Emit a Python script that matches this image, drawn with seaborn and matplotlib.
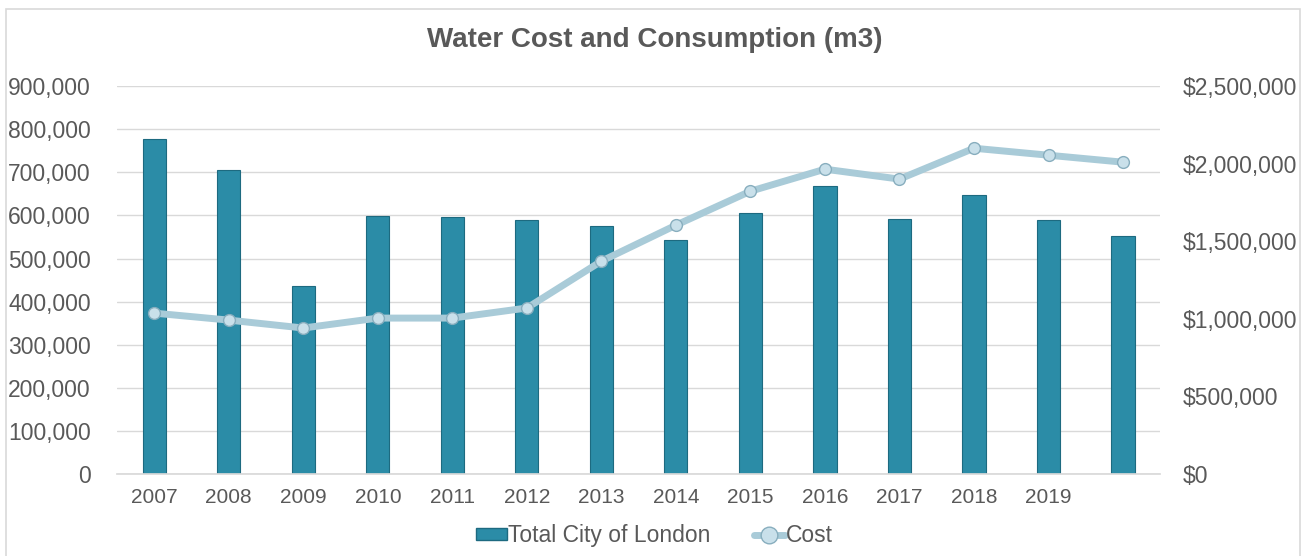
import matplotlib
matplotlib.use("Agg")
import matplotlib.pyplot as plt
import matplotlib.ticker as ticker
from matplotlib.patches import Patch, Rectangle
from matplotlib.lines import Line2D
import seaborn as sns
import pandas as pd

# Chart data
years = ["2007", "2008", "2009", "2010", "2011", "2012", "2013",
         "2014", "2015", "2016", "2017", "2018", "2019", ""]
consumption = [777000, 705000, 436000, 599000, 596000, 589000, 575000,
               543000, 605000, 668000, 592000, 647000, 589000, 552000]
cost = [1037000, 992000, 941000, 1005000, 1005000, 1070000, 1372000,
        1604000, 1823000, 1965000, 1901000, 2100000, 2055000, 2010000]

df = pd.DataFrame({"year": years, "consumption": consumption, "cost": cost})

text_color = "#595959"
bar_color = "#2b8ca7"
bar_edge = "#1d6a80"
line_color = "#a9cbd8"
marker_face = "#c9e0ea"
marker_edge = "#88aebe"

sns.set_theme(style="white")
plt.rcParams['font.family'] = ['Liberation Sans', 'DejaVu Sans']

fig = plt.figure(figsize=(13.09, 5.56), dpi=100)
ax = fig.add_axes([0.0894, 0.1475, 0.797, 0.6975])

# --- Bars: total consumption (left axis) ---
sns.barplot(data=df, x="year", y="consumption", order=years, ax=ax,
            color=bar_color, width=0.31, saturation=1,
            edgecolor=bar_edge, linewidth=0.8)

ax.set_ylim(0, 900000)
ax.yaxis.set_major_locator(ticker.MultipleLocator(100000))
ax.yaxis.set_major_formatter(ticker.StrMethodFormatter("{x:,.0f}"))
ax.grid(axis="y", color="#d9d9d9", linewidth=1)
ax.set_axisbelow(True)
for side in ["top", "right", "left"]:
    ax.spines[side].set_visible(False)
ax.spines["bottom"].set_color("#d9d9d9")
ax.tick_params(axis="y", length=0, pad=19, labelsize=16.5, labelcolor=text_color)
ax.tick_params(axis="x", length=0, pad=10, labelsize=15, labelcolor=text_color)
ax.set_xlabel("")
ax.set_ylabel("")

# --- Line: cost (right axis) ---
ax2 = ax.twinx()
sns.pointplot(data=df, x="year", y="cost", order=years, ax=ax2,
              color=line_color, markers="o", linewidth=5,
              markersize=8.5, markeredgecolor=marker_edge,
              markerfacecolor=marker_face, markeredgewidth=1)
ax2.set_ylim(0, 2500000)
ax2.yaxis.set_major_locator(ticker.MultipleLocator(500000))
ax2.yaxis.set_major_formatter(ticker.StrMethodFormatter("${x:,.0f}"))
for side in ["top", "right", "left", "bottom"]:
    ax2.spines[side].set_visible(False)
ax2.tick_params(axis="y", length=0, pad=16, labelsize=16.5, labelcolor=text_color)
ax2.set_ylabel("")
ax2.set_xlabel("")
ax2.grid(False)
ax.set_xlim(-0.5, len(years) - 0.5)

# Title
fig.text(0.5, 0.928, "Water Cost and Consumption (m3)", ha="center", va="center",
         fontsize=20, fontweight="bold", color=text_color)

# Legend
handles = [Patch(facecolor=bar_color, edgecolor=bar_edge),
           Line2D([0], [0], color=line_color, linewidth=5, marker="o",
                  markersize=12, markerfacecolor=marker_face, markeredgecolor=marker_edge)]
fig.legend(handles, ["Total City of London", "Cost"], loc="center",
           bbox_to_anchor=(0.5, 0.036), ncol=2, frameon=False, fontsize=16.5,
           handlelength=1.35, handleheight=0.45, handletextpad=0.05, columnspacing=1.9,
           labelcolor=text_color)

# Chart border
fig.patches.append(Rectangle((0.0046, -0.02), 0.9885, 1.004, transform=fig.transFigure,
                             fill=False, edgecolor="#d9d9d9", linewidth=1.2))

fig.savefig("out.png", dpi=100)
